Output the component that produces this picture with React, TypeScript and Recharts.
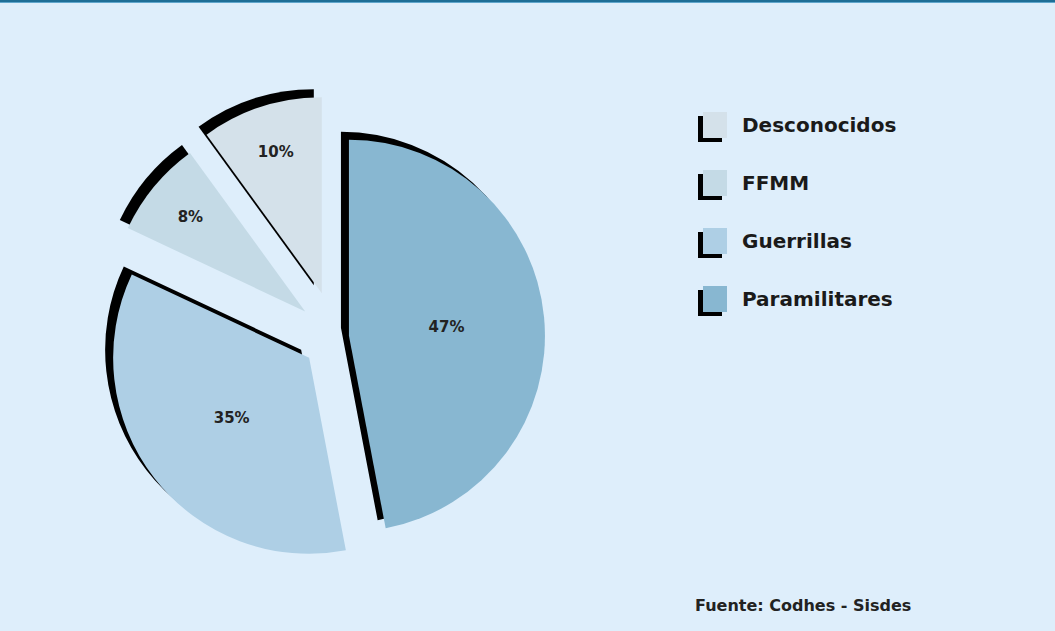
import React from 'react';
import { PieChart, Pie, Sector, Legend } from 'recharts';

// clockwise from 12 o'clock
const categories = ['Paramilitares', 'Guerrillas', 'FFMM', 'Desconocidos'];
const shares = [47, 35, 8, 10];
const sliceColors = ['#88B7D1', '#AECFE5', '#C4DAE6', '#D4E1EA'];
// legend lists the slices the other way round
const legendOrder = ['Desconocidos', 'FFMM', 'Guerrillas', 'Paramilitares'];
// how far each slice is pulled out of the pie (px)
const explode = [13, 34, 40, 46];

const data = categories.map((name, i) => ({ name, value: shares[i], fill: sliceColors[i] }));

const RADIAN = Math.PI / 180;
const SHADOW = 8;
const FONT = '"DejaVu Sans", sans-serif';

const renderSlice = (props: any) => {
  const { cx, cy, midAngle, outerRadius, startAngle, endAngle, index, fill, value } = props;
  const dx = Math.cos(-midAngle * RADIAN);
  const dy = Math.sin(-midAngle * RADIAN);
  const ox = cx + explode[index] * dx;
  const oy = cy + explode[index] * dy;
  const sweep = Math.abs(endAngle - startAngle);
  const lr = outerRadius * (sweep > 90 ? 0.5 : 0.76);
  return (
    <g>
      <Sector cx={ox - SHADOW} cy={oy - SHADOW} innerRadius={0} outerRadius={outerRadius}
        startAngle={startAngle} endAngle={endAngle} fill="#000" stroke="none" />
      <Sector cx={ox} cy={oy} innerRadius={0} outerRadius={outerRadius}
        startAngle={startAngle} endAngle={endAngle} fill={fill} stroke="none" />
      <text x={ox + lr * dx} y={oy + lr * dy} textAnchor="middle" dominantBaseline="central"
        fontFamily={FONT} fontWeight="bold" fontSize={15} fill="#222">
        {value}%
      </text>
    </g>
  );
};

const renderLegend = (props: any) => {
  const items = [...(props.payload || [])].sort(
    (a: any, b: any) => legendOrder.indexOf(a.value) - legendOrder.indexOf(b.value)
  );
  return (
    <div>
      {items.map((item: any) => (
        <div key={item.value} style={{ position: 'relative', height: 58 }}>
          <div style={{ position: 'absolute', left: 0, top: 4, width: 24, height: 26, background: '#000' }} />
          <div style={{
            position: 'absolute', left: 5, top: 0, width: 24, height: 26,
            background: sliceColors[categories.indexOf(item.value)] || item.color
          }} />
          <span style={{
            position: 'absolute', left: 44, top: 1, fontFamily: FONT, fontWeight: 'bold',
            fontSize: 20, color: '#1a1a1a', whiteSpace: 'nowrap'
          }}>{item.value}</span>
        </div>
      ))}
    </div>
  );
};

export default function App() {
  return (
    <div style={{ position: 'fixed', left: 0, top: 0, width: 1055, height: 631, background: '#DEEEFB', overflow: 'hidden' }}>
      <div style={{ position: 'absolute', left: 0, top: 0, width: 1055, height: 2, background: '#1E6E96' }} />
      <div style={{ position: 'absolute', left: 0, top: 2, width: 1055, height: 1, background: '#5FA6CC' }} />
      <PieChart width={1055} height={631} margin={{ top: 0, right: 0, bottom: 0, left: 0 }}>
        <Pie
          data={data}
          dataKey="value"
          nameKey="name"
          cx={336}
          cy={337}
          outerRadius={196}
          startAngle={90}
          endAngle={-270}
          stroke="none"
          fillOpacity={0}
          label={renderSlice}
          labelLine={false}
          isAnimationActive={false}
        />
        <Legend
          layout="vertical"
          align="right"
          verticalAlign="top"
          content={renderLegend}
          wrapperStyle={{ position: 'absolute', left: 698, top: 112, width: 260 }}
        />
      </PieChart>
      <div style={{
        position: 'absolute', left: 695, top: 596, fontFamily: FONT, fontWeight: 'bold',
        fontSize: 16, color: '#222', whiteSpace: 'nowrap'
      }}>
        Fuente: Codhes - Sisdes
      </div>
    </div>
  );
}
